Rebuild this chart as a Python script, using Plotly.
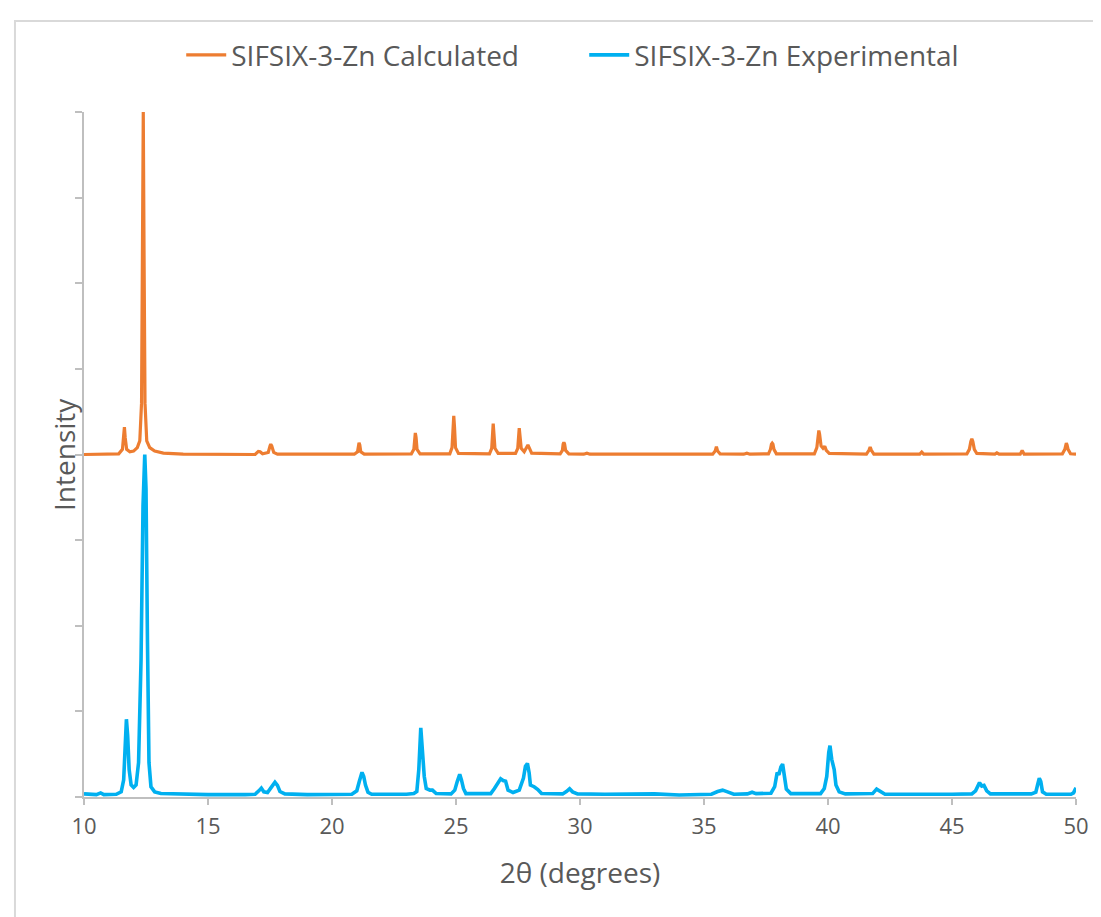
import plotly.graph_objects as go

# Calculated pattern (offset by +100 on the intensity axis)
calc_x = [10.0, 11.4, 11.55, 11.6, 11.63, 11.66, 11.72, 11.85, 12.0, 12.15, 12.25, 12.32, 12.36, 12.39,
          12.42, 12.46, 12.53, 12.65, 12.85, 13.2, 14.0, 16.9, 17.03, 17.1, 17.2, 17.43, 17.5, 17.53,
          17.57, 17.65, 17.8, 20.9, 21.03, 21.06, 21.09, 21.12, 21.16, 21.3, 23.2, 23.3, 23.33, 23.36,
          23.39, 23.43, 23.55, 24.75, 24.84, 24.88, 24.91, 24.94, 24.98, 25.1, 26.35, 26.44, 26.47, 26.5,
          26.53, 26.57, 26.7, 27.4, 27.49, 27.52, 27.55, 27.58, 27.63, 27.75, 27.85, 27.9, 27.95, 28.05,
          29.2, 29.29, 29.32, 29.35, 29.38, 29.42, 29.55, 30.15, 30.28, 30.4, 35.35, 35.45, 35.5, 35.55,
          35.65, 36.6, 36.73, 36.85, 37.6, 37.68, 37.72, 37.75, 37.78, 37.82, 37.92, 39.45, 39.55, 39.6,
          39.63, 39.66, 39.72, 39.8, 39.87, 39.93, 40.05, 41.55, 41.65, 41.7, 41.75, 41.85, 42.9, 43.01,
          43.1, 43.7, 43.78, 43.86, 45.6, 45.7, 45.76, 45.8, 45.84, 45.9, 46.0, 46.73, 46.81, 46.9, 47.75,
          47.83, 47.91, 49.45, 49.55, 49.58, 49.61, 49.64, 49.68, 49.78, 50.0]
calc_y = [100.0, 100.2, 101.5, 105.0, 108.0, 105.0, 101.5, 100.8, 101.0, 102.0, 104.0, 115.0, 160.0, 200.0,
          160.0, 115.0, 104.0, 102.0, 101.0, 100.4, 100.1, 100.0, 100.9, 100.8, 100.2, 100.6, 102.5, 103.0,
          102.5, 100.6, 100.1, 100.1, 100.8, 102.8, 103.4, 102.8, 100.8, 100.1, 100.2, 101.5, 105.0, 106.3,
          105.0, 101.5, 100.2, 100.2, 102.0, 108.0, 111.3, 108.0, 102.0, 100.3, 100.2, 101.8, 106.0, 109.0,
          106.0, 101.8, 100.3, 100.3, 101.8, 105.5, 107.7, 105.5, 101.8, 100.8, 102.0, 102.8, 102.0, 100.4,
          100.2, 101.2, 103.0, 103.6, 103.0, 101.2, 100.2, 100.1, 100.4, 100.1, 100.1, 101.0, 102.3, 101.0,
          100.2, 100.1, 100.4, 100.1, 100.2, 101.5, 103.0, 103.3, 103.0, 101.5, 100.2, 100.2, 102.0, 106.0,
          107.0, 106.0, 102.5, 101.8, 102.4, 101.2, 100.3, 100.1, 101.2, 102.2, 101.2, 100.1, 100.1, 100.3,
          100.1, 100.1, 100.7, 100.1, 100.2, 101.5, 103.8, 104.6, 103.8, 101.5, 100.3, 100.1, 100.5, 100.1, 100.1,
          101.2, 100.1, 100.2, 101.5, 102.8, 103.3, 102.8, 101.5, 100.2, 100.1]

# Experimental pattern
exp_x = [10.0, 10.5, 10.67, 10.8, 11.3, 11.5, 11.6, 11.66, 11.71, 11.76, 11.82, 11.9, 12.0, 12.1, 12.2,
         12.3, 12.38, 12.45, 12.5, 12.56, 12.62, 12.7, 12.85, 13.1, 14.0, 15.0, 16.5, 16.9, 17.05, 17.15,
         17.25, 17.4, 17.55, 17.7, 17.8, 17.9, 18.1, 19.0, 20.8, 21.0, 21.1, 21.21, 21.28, 21.35, 21.45,
         21.6, 23.0, 23.3, 23.42, 23.5, 23.58, 23.65, 23.72, 23.8, 23.95, 24.05, 24.2, 24.8, 24.95, 25.05,
         25.15, 25.22, 25.3, 25.4, 26.4, 26.55, 26.7, 26.8, 26.9, 27.0, 27.1, 27.3, 27.55, 27.65, 27.72,
         27.8, 27.88, 27.95, 28.0, 28.15, 28.3, 28.45, 29.3, 29.45, 29.58, 29.7, 29.9, 31.0, 33.0, 34.0,
         35.3, 35.55, 35.75, 35.95, 36.2, 36.75, 36.94, 37.1, 37.7, 37.85, 37.95, 38.02, 38.1, 38.17, 38.24,
         38.32, 38.5, 39.7, 39.85, 39.95, 40.03, 40.08, 40.15, 40.25, 40.32, 40.45, 40.7, 41.8, 41.96, 42.1,
         42.3, 45.0, 45.8, 45.95, 46.11, 46.2, 46.29, 46.4, 46.55, 48.2, 48.38, 48.45, 48.52, 48.58, 48.65,
         48.8, 49.8, 49.9, 50.0]
exp_y = [0.9, 0.7, 1.2, 0.7, 0.8, 1.5, 5.0, 15.0, 22.7, 18.0, 8.0, 3.5, 2.8, 3.5, 10.0,
         40.0, 85.0, 100.0, 90.0, 45.0, 10.0, 3.0, 1.5, 1.0, 0.8, 0.7, 0.7, 0.8, 1.8, 2.6,
         1.5, 1.3, 2.8, 4.3, 3.4, 1.6, 0.9, 0.7, 0.8, 1.8, 4.5, 7.2, 6.0, 3.5, 1.4,
         0.8, 0.8, 1.0, 1.6, 8.0, 20.2, 14.0, 6.0, 2.5, 2.0, 2.0, 1.0, 0.9, 2.0, 4.5,
         6.6, 5.0, 2.5, 1.0, 1.0, 2.5, 4.5, 5.3, 4.8, 4.6, 2.0, 1.3, 2.0, 4.5, 5.5,
         9.0, 9.8, 7.0, 3.5, 3.0, 2.2, 1.0, 0.9, 1.6, 2.4, 1.5, 0.9, 0.8, 0.9, 0.6,
         0.8, 1.6, 2.0, 1.5, 0.8, 0.9, 1.4, 1.0, 1.1, 3.0, 7.1, 6.5, 8.8, 9.6, 6.0,
         2.3, 1.0, 1.0, 2.5, 6.0, 13.0, 15.0, 11.0, 8.0, 3.5, 1.5, 0.9, 1.0, 2.3, 1.6,
         0.8, 0.8, 0.9, 1.8, 4.2, 3.2, 3.4, 1.8, 0.9, 0.9, 1.4, 3.5, 5.5, 4.5, 1.5,
         0.8, 0.8, 1.2, 2.7]

x_ticks = [10, 15, 20, 25, 30, 35, 40, 45, 50]
y_ticks = [0, 25, 50, 75, 100, 125, 150, 175, 200]

FONT = "Open Sans"
GREY = "#595959"
AXIS = "#bfbfbf"

fig = go.Figure()
fig.add_trace(go.Scatter(x=calc_x, y=calc_y, mode="lines", name="SIFSIX-3-Zn Calculated",
                         line=dict(color="#ED7D31", width=3.2)))
fig.add_trace(go.Scatter(x=exp_x, y=exp_y, mode="lines", name="SIFSIX-3-Zn Experimental",
                         line=dict(color="#00B0F0", width=3.6)))

fig.update_layout(
    width=1093, height=909,
    margin=dict(l=76, r=25, t=104, b=120),
    paper_bgcolor="white", plot_bgcolor="white",
    font=dict(family=FONT, color=GREY),
    showlegend=True,
    legend=dict(orientation="h", x=0.098, xanchor="left", y=1.083, yanchor="middle",
                font=dict(size=28, color=GREY, family=FONT), itemwidth=40, traceorder="normal",
                entrywidth=348, entrywidthmode="pixels",
                bgcolor="rgba(0,0,0,0)"),
    xaxis=dict(range=[10, 50], tickvals=x_ticks, ticktext=[str(v) for v in x_ticks],
               showgrid=False, zeroline=False, showline=True, linecolor=AXIS, linewidth=1.5,
               ticks="outside", ticklen=6, tickcolor=AXIS, tickwidth=1.5,
               ticklabelstandoff=3,
               tickfont=dict(size=22, color=GREY, family=FONT),
               title=dict(text="2θ (degrees)", font=dict(size=28, color=GREY, family=FONT), standoff=24)),
    yaxis=dict(range=[0, 200], tickvals=y_ticks, showticklabels=False,
               showgrid=False, zeroline=False, showline=True, linecolor=AXIS, linewidth=1.5,
               ticks="outside", ticklen=7, tickcolor=AXIS, tickwidth=1.5),
    annotations=[dict(text="Intensity", xref="paper", yref="paper", x=-0.0202, y=0.5007,
                      xanchor="center", yanchor="middle", textangle=-90, showarrow=False,
                      font=dict(size=28, color=GREY, family=FONT))],
    shapes=[dict(type="rect", xref="paper", yref="paper", x0=-0.0696, x1=1.05, y0=-0.25, y1=1.1327,
                 line=dict(color="#d9d9d9", width=2), fillcolor="rgba(0,0,0,0)", layer="below")],
)

fig.write_html("out.html")
